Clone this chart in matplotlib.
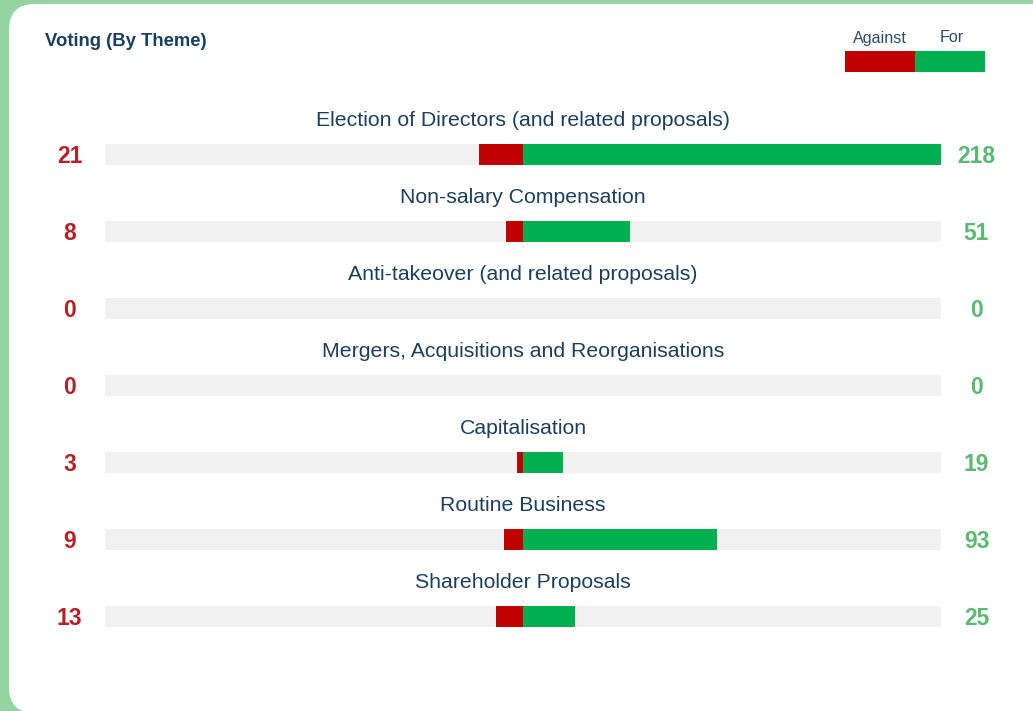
import matplotlib

matplotlib.use("Agg")
import matplotlib.pyplot as plt
from matplotlib.patches import FancyBboxPatch

# data
themes = [
    "Election of Directors (and related proposals)",
    "Non-salary Compensation",
    "Anti-takeover (and related proposals)",
    "Mergers, Acquisitions and Reorganisations",
    "Capitalisation",
    "Routine Business",
    "Shareholder Proposals",
]
against = [21, 8, 0, 0, 3, 9, 13]
votes_for = [218, 51, 0, 0, 19, 93, 25]
axis_limit = 200

RED = "#c00000"
GREEN = "#00b050"
TRACK = "#f1f1f1"
NAVY = "#1c3f5e"

plt.rcParams["font.family"] = ["Liberation Sans", "DejaVu Sans"]

W, H = 1033, 711
fig = plt.figure(figsize=(W / 100, H / 100), dpi=100)
fig.patch.set_facecolor("#96d3a3")

# white rounded panel (right edge runs off the picture)
panel = FancyBboxPatch(
    (9 / W, -2 / H), 1.2, (711 - 4 + 2) / H,
    boxstyle="round,pad=0,rounding_size=0.025",
    transform=fig.transFigure, facecolor="white", edgecolor="none", zorder=-5,
    mutation_aspect=W / H,
)
fig.patches.append(panel)

fig.text(45 / W, 1 - 42 / H, "Voting (By Theme)", fontsize=13.3, fontweight="bold",
         color="#173f5f", va="center", ha="left")

# main axes
ax = fig.add_axes([105 / W, 1 - 655 / H, 836 / W, 539 / H])
ax.set_facecolor("none")
rows = range(len(themes))
bar_h = 21 / 77

ax.barh(rows, [2 * axis_limit] * len(themes), left=-axis_limit, height=bar_h, color=TRACK, zorder=1)
ax.barh(rows, [-a for a in against], left=0, height=bar_h, color=RED, zorder=2)
ax.barh(rows, votes_for, left=0, height=bar_h, color=GREEN, zorder=2)

ax.set_xlim(-axis_limit, axis_limit)
ax.set_ylim(len(themes) - 0.5, -0.5)
ax.axis("off")

for i, (name, a, f) in enumerate(zip(themes, against, votes_for)):
    ax.text(0, i - 0.37, name, ha="center", va="baseline", fontsize=15.3, color=NAVY)
    ax.text(-217, i + 0.02, str(a), ha="center", va="center", fontsize=16.5,
            fontweight="bold", color="#b22327", clip_on=False)
    ax.text(217, i + 0.02, str(f), ha="center", va="center", fontsize=16.5,
            fontweight="bold", color="#5cb873", clip_on=False)

# legend
lax = fig.add_axes([845 / W, 1 - 72 / H, 140 / W, 21 / H])
lax.barh(0, 1, left=0, height=1, color=RED)
lax.barh(0, 1, left=1, height=1, color=GREEN)
lax.set_xlim(0, 2)
lax.set_ylim(-0.5, 0.5)
lax.axis("off")
lax.text(0.5, 1.1, "Against", ha="center", va="center", fontsize=11.6, color="#2a4a66", clip_on=False)
lax.text(1.53, 1.15, "For", ha="center", va="center", fontsize=11.6, color="#2a4a66", clip_on=False)

fig.savefig("out.png", dpi=100, facecolor=fig.get_facecolor())
